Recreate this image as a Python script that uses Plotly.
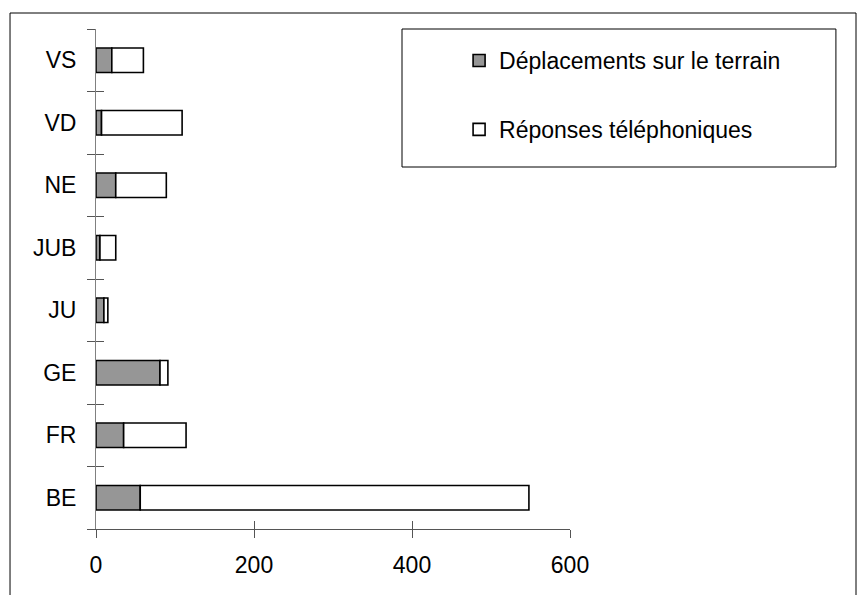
import plotly.graph_objects as go

cantons = ["BE", "FR", "GE", "JU", "JUB", "NE", "VD", "VS"]
deplacements = [56, 35, 81, 10, 5, 25, 7, 20]
reponses = [492, 79, 10, 5, 20, 64, 102, 40]
x_ticks = [0, 200, 400, 600]

FONT = "Liberation Sans, Arial, sans-serif"

fig = go.Figure()
fig.add_trace(go.Bar(
    y=cantons, x=deplacements, orientation="h",
    name="Déplacements sur le terrain", legendgroup="a",
    marker=dict(color="#969696", line=dict(color="black", width=1.6)),
    xaxis="x", yaxis="y",
))
fig.add_trace(go.Bar(
    y=cantons, x=reponses, base=deplacements, orientation="h",
    name="Réponses téléphoniques", legendgroup="b",
    marker=dict(color="white", line=dict(color="black", width=1.6)),
    xaxis="x2", yaxis="y2",
))

axis_x = dict(range=[0, 600], tickvals=x_ticks, ticklen=8, tickwidth=1,
              tickcolor="#555", linecolor="#555", linewidth=1, showline=True,
              showgrid=False, zeroline=False)
axis_y = dict(type="category", categoryarray=cantons, tickson="boundaries",
              ticklen=8, tickwidth=1, tickcolor="#555", linecolor="#808080",
              linewidth=1, showline=True, showgrid=False, zeroline=False,
              range=[-0.5, len(cantons) - 0.5])

fig.update_layout(
    width=867, height=595,
    margin=dict(l=88, r=305, t=21, b=74),
    paper_bgcolor="white", plot_bgcolor="white",
    barmode="overlay", bargap=0.61,
    font=dict(family=FONT, size=23, color="black"),
    xaxis=dict(**axis_x, ticks="outside", ticklabelstandoff=7),
    xaxis2=dict(**axis_x, ticks="inside", matches="x", overlaying="x",
                showticklabels=False),
    yaxis=dict(**axis_y, ticks="outside", ticklabelstandoff=14),
    yaxis2=dict(**axis_y, ticks="inside", matches="y", overlaying="y",
                showticklabels=False),
    legend=dict(x=0.766, y=0.98, xanchor="left", yanchor="top",
                traceorder="grouped", tracegroupgap=36,
                bgcolor="rgba(0,0,0,0)", borderwidth=0,
                font=dict(family=FONT, size=23)),
    shapes=[
        dict(type="rect", xref="paper", yref="paper",
             x0=-0.1814, x1=1.6034, y0=-0.2, y1=1.032,
             line=dict(color="black", width=1), layer="below"),
        dict(type="rect", xref="paper", yref="paper",
             x0=0.6456, x1=1.561, y0=0.724, y1=1.0,
             line=dict(color="black", width=1), layer="below"),
    ],
)

fig.write_html("out.html")
